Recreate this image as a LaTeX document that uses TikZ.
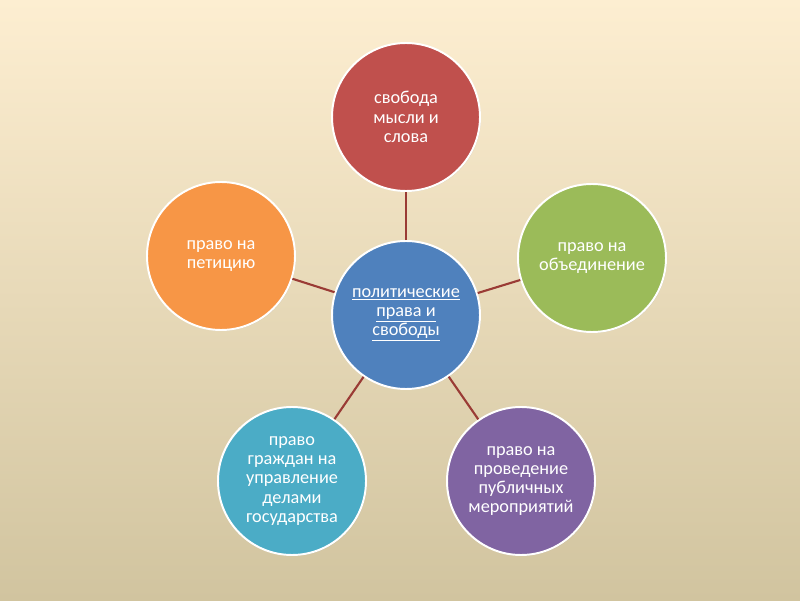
\documentclass[tikz,border=0pt]{standalone}
\usepackage{fontspec}
\setmainfont{Carlito}
\usepackage{xcolor}
\usepackage{tikz}
\usetikzlibrary{positioning,shadows}

\definecolor{bgtop}{HTML}{FDEED1}
\definecolor{bgbot}{HTML}{D1C49F}
\definecolor{linkred}{HTML}{9A3B35}
\definecolor{hubblue}{HTML}{4F81BD}
\definecolor{redc}{HTML}{C0504D}
\definecolor{greenc}{HTML}{9BBB59}
\definecolor{purplec}{HTML}{8064A2}
\definecolor{aquac}{HTML}{4BACC6}
\definecolor{orangec}{HTML}{F79646}

\begin{document}
\begin{tikzpicture}[
  bubble/.style={circle, draw=white, line width=1.4pt, minimum size=3.7cm,
    inner sep=0pt, align=center, text=white, font=\fontsize{13}{13.7}\selectfont,
    drop shadow={opacity=0.25, shadow xshift=0.6pt, shadow yshift=-0.6pt}},
  hub/.style={bubble, fill=hubblue},
  link/.style={draw=linkred, line width=1.5pt}
]
% background
\shade[top color=bgtop, bottom color=bgbot] (0,0) rectangle (20,15);
\useasboundingbox (0,0) rectangle (20,15);

\node[hub] (pol) at (10.15,7.125)
  {\underline{политические}\\\underline{права и}\\\underline{свободы}};
\node[bubble, fill=redc] (speech) at (10.15,12.075) {свобода\\мысли и\\слова};
\node[bubble, fill=greenc] (assoc) at (14.8,8.55) {право на\\объединение};
\node[bubble, fill=purplec] (events) at (13.025,2.975)
  {право на\\проведение\\публичных\\мероприятий};
\node[bubble, fill=aquac] (govern) at (7.3,2.975)
  {право\\граждан на\\управление\\делами\\государства};
\node[bubble, fill=orangec] (petition) at (5.525,8.6) {право на\\петицию};

\draw[link] (pol) -- (speech);
\draw[link] (pol) -- (assoc);
\draw[link] (pol) -- (events);
\draw[link] (pol) -- (govern);
\draw[link] (pol) -- (petition);
\end{tikzpicture}
\end{document}
